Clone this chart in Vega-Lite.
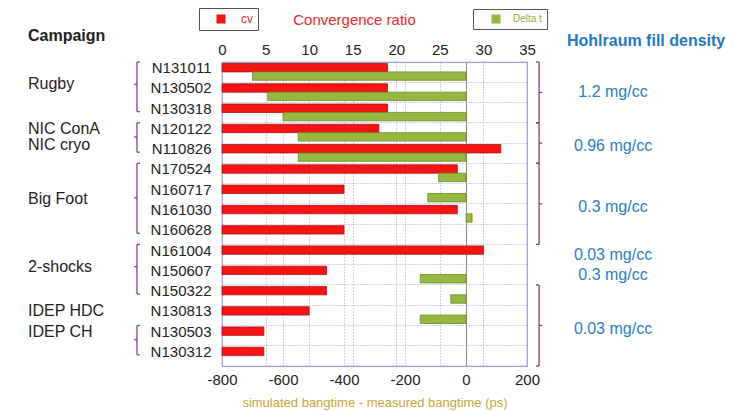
{
  "$schema": "https://vega.github.io/schema/vega-lite/v6.json",
  "autosize": {"type": "pad"},
  "padding": {"left": 28, "top": 6, "right": 0, "bottom": 0},
  "background": "white",
  "config": {
    "font": "Liberation Sans",
    "view": {"stroke": null},
    "title": {"font": "Liberation Sans"},
    "axis": {"labelFont": "Liberation Sans", "titleFont": "Liberation Sans"},
    "legend": {"labelFont": "Liberation Sans"}
  },
  "hconcat": [
    {
      "width": 185,
      "height": 304,
      "title": {"text": "Campaign", "anchor": "start", "frame": "group", "fontSize": 16, "fontWeight": "bold", "color": "#222222", "offset": 17},
      "layer": [
        {
          "data": {"values": [
            {"first": "N131011", "last": "N130318"},
            {"first": "N120122", "last": "N110826"},
            {"first": "N170524", "last": "N160628"},
            {"first": "N161004", "last": "N150322"},
            {"first": "N130503", "last": "N130312"}
          ]},
          "layer": [
            {
              "mark": {"type": "rule", "color": "#8a4585", "strokeWidth": 1.3},
              "encoding": {
                "x": {"datum": 0.589, "type": "quantitative", "scale": {"domain": [0, 1]}, "axis": null},
                "y": {"field": "first", "type": "nominal", "bandPosition": 0, "scale": {"type": "band", "domain": ["N131011","N130502","N130318","N120122","N110826","N170524","N160717","N161030","N160628","N161004","N150607","N150322","N130813","N130503","N130312"], "paddingInner": 0, "paddingOuter": 0}, "axis": null},
                "y2": {"field": "last", "bandPosition": 0.45}
              }
            },
            {
              "mark": {"type": "rule", "color": "#8a4585", "strokeWidth": 1.3},
              "encoding": {
                "x": {"datum": 0.589, "type": "quantitative", "scale": {"domain": [0, 1]}, "axis": null},
                "x2": {"datum": 0.605},
                "y": {"field": "first", "type": "nominal", "bandPosition": 0, "scale": {"type": "band", "domain": ["N131011","N130502","N130318","N120122","N110826","N170524","N160717","N161030","N160628","N161004","N150607","N150322","N130813","N130503","N130312"], "paddingInner": 0, "paddingOuter": 0}, "axis": null}
              }
            },
            {
              "mark": {"type": "rule", "color": "#8a4585", "strokeWidth": 1.3},
              "encoding": {
                "x": {"datum": 0.589, "type": "quantitative", "scale": {"domain": [0, 1]}, "axis": null},
                "x2": {"datum": 0.605},
                "y": {"field": "last", "type": "nominal", "bandPosition": 0.45, "scale": {"type": "band", "domain": ["N131011","N130502","N130318","N120122","N110826","N170524","N160717","N161030","N160628","N161004","N150607","N150322","N130813","N130503","N130312"], "paddingInner": 0, "paddingOuter": 0}, "axis": null}
              }
            }
          ]
        },
        {
          "data": {"values": [{"label": "Rugby", "at": "N130502"}, {"label": "NIC cryo", "at": "N110826"}, {"label": "2-shocks", "at": "N150607"}]},
          "encoding": {
            "y": {"field": "at", "type": "nominal", "bandPosition": 0.1, "scale": {"type": "band", "domain": ["N131011","N130502","N130318","N120122","N110826","N170524","N160717","N161030","N160628","N161004","N150607","N150322","N130813","N130503","N130312"], "paddingInner": 0, "paddingOuter": 0}, "axis": null}
          },
          "layer": [
            {
              "mark": {"type": "text", "align": "left", "baseline": "middle", "fontSize": 16, "color": "#222222"},
              "encoding": {
                "x": {"datum": 0, "type": "quantitative", "scale": {"domain": [0, 1]}, "axis": null},
                "text": {"field": "label"}
              }
            },
            {
              "transform": [{"filter": "datum.label !== 'NIC cryo'"}],
              "mark": {"type": "rule", "color": "#8a4585", "strokeWidth": 1.3},
              "encoding": {
                "x": {"datum": 0.573, "type": "quantitative", "scale": {"domain": [0, 1]}, "axis": null},
                "x2": {"datum": 0.589}
              }
            }
          ]
        },
        {
          "data": {"values": [{"label": "NIC ConA", "at": "N120122"}, {"label": "IDEP HDC", "at": "N130813"}, {"label": "IDEP CH", "at": "N130503"}]},
          "mark": {"type": "text", "align": "left", "baseline": "middle", "fontSize": 16, "color": "#222222"},
          "encoding": {
            "x": {"datum": 0, "type": "quantitative", "scale": {"domain": [0, 1]}, "axis": null},
            "y": {"field": "at", "type": "nominal", "bandPosition": 0.3, "scale": {"type": "band", "domain": ["N131011","N130502","N130318","N120122","N110826","N170524","N160717","N161030","N160628","N161004","N150607","N150322","N130813","N130503","N130312"], "paddingInner": 0, "paddingOuter": 0}, "axis": null},
            "text": {"field": "label"}
          }
        },
        {
          "data": {"values": [{"label": "Big Foot", "at": "N160717"}]},
          "mark": {"type": "text", "align": "left", "baseline": "middle", "fontSize": 16, "color": "#222222"},
          "encoding": {
            "x": {"datum": 0, "type": "quantitative", "scale": {"domain": [0, 1]}, "axis": null},
            "y": {"field": "at", "type": "nominal", "bandPosition": 0.75, "scale": {"type": "band", "domain": ["N131011","N130502","N130318","N120122","N110826","N170524","N160717","N161030","N160628","N161004","N150607","N150322","N130813","N130503","N130312"], "paddingInner": 0, "paddingOuter": 0}, "axis": null},
            "text": {"field": "label"}
          }
        },
        {
          "data": {"values": [{"at": "N120122"}, {"at": "N160717"}, {"at": "N130503"}]},
          "mark": {"type": "rule", "color": "#8a4585", "strokeWidth": 1.3},
          "encoding": {
            "x": {"datum": 0.573, "type": "quantitative", "scale": {"domain": [0, 1]}, "axis": null},
            "x2": {"datum": 0.589},
            "y": {"field": "at", "type": "nominal", "bandPosition": 0.7, "scale": {"type": "band", "domain": ["N131011","N130502","N130318","N120122","N110826","N170524","N160717","N161030","N160628","N161004","N150607","N150322","N130813","N130503","N130312"], "paddingInner": 0, "paddingOuter": 0}, "axis": null}
          }
        }
      ]
    },
    {
      "width": 305,
      "height": 304,
      "view": {"stroke": "#9b9be8", "strokeWidth": 1.2},
      "data": {"values": [
        {"shot": "N131011", "series": "cv", "value": 19},
        {"shot": "N130502", "series": "cv", "value": 19},
        {"shot": "N130318", "series": "cv", "value": 19},
        {"shot": "N120122", "series": "cv", "value": 18},
        {"shot": "N110826", "series": "cv", "value": 32},
        {"shot": "N170524", "series": "cv", "value": 27},
        {"shot": "N160717", "series": "cv", "value": 14},
        {"shot": "N161030", "series": "cv", "value": 27},
        {"shot": "N160628", "series": "cv", "value": 14},
        {"shot": "N161004", "series": "cv", "value": 30},
        {"shot": "N150607", "series": "cv", "value": 12},
        {"shot": "N150322", "series": "cv", "value": 12},
        {"shot": "N130813", "series": "cv", "value": 10},
        {"shot": "N130503", "series": "cv", "value": 4.8},
        {"shot": "N130312", "series": "cv", "value": 4.8},
        {"shot": "N131011", "series": "Delta t", "value": -700},
        {"shot": "N130502", "series": "Delta t", "value": -650},
        {"shot": "N130318", "series": "Delta t", "value": -600},
        {"shot": "N120122", "series": "Delta t", "value": -550},
        {"shot": "N110826", "series": "Delta t", "value": -550},
        {"shot": "N170524", "series": "Delta t", "value": -90},
        {"shot": "N160717", "series": "Delta t", "value": -125},
        {"shot": "N161030", "series": "Delta t", "value": 20},
        {"shot": "N150607", "series": "Delta t", "value": -150},
        {"shot": "N150322", "series": "Delta t", "value": -50},
        {"shot": "N130813", "series": "Delta t", "value": -150}
      ]},
      "encoding": {
        "y": {
          "field": "shot", "type": "nominal",
          "scale": {"type": "band", "domain": ["N131011","N130502","N130318","N120122","N110826","N170524","N160717","N161030","N160628","N161004","N150607","N150322","N130813","N130503","N130312"], "paddingInner": 0, "paddingOuter": 0},
          "axis": {"title": null, "bandPosition": 0, "labelOffset": -4, "ticks": false, "domain": false, "labelPadding": 11, "labelFontSize": 15, "labelColor": "#222222", "grid": true, "gridColor": "#9ba0e6", "gridDash": [1, 2], "labelBaseline": "middle"}
        },
        "yOffset": {"field": "series", "type": "nominal", "scale": {"domain": ["cv", "Delta t"], "paddingInner": 0, "paddingOuter": 0.207, "align": 0.43}}
      },
      "layer": [
        {
          "transform": [{"filter": "datum.series === 'cv'"}],
          "mark": {"type": "bar", "stroke": "#b01212", "strokeWidth": 0.8},
          "encoding": {
            "x": {
              "field": "value", "type": "quantitative",
              "scale": {"domain": [0, 35], "nice": false},
              "axis": {"orient": "top", "values": [0, 5, 10, 15, 20, 25, 30, 35], "title": "Convergence ratio", "titleColor": "#f02828", "titleFontSize": 15, "titleFontWeight": "normal", "titleX": 132, "titleY": -43, "titleBaseline": "middle", "titleAlign": "center", "labelFontSize": 15, "labelColor": "#222222", "labelPadding": 5, "labelFlush": false, "labelOverlap": false, "ticks": false, "domain": false, "grid": true, "gridColor": "#9ba0e6", "gridDash": [1, 2]}
            },
            "color": {
              "field": "series", "type": "nominal",
              "scale": {"domain": ["cv"], "range": ["#f51414"]},
              "legend": {"title": null, "orient": "none", "legendX": -23, "legendY": -54, "symbolType": "square", "symbolSize": 81, "symbolStrokeWidth": 0, "labelColor": "#f02828", "labelFontSize": 12, "padding": 5, "strokeColor": "#555555", "fillColor": "white", "symbolOffset": 11, "labelOffset": 14}
            }
          }
        },
        {
          "transform": [{"filter": "datum.series === 'Delta t'"}],
          "mark": {"type": "bar", "stroke": "#6b8a25", "strokeWidth": 0.8},
          "encoding": {
            "x": {
              "field": "value", "type": "quantitative",
              "scale": {"domain": [-800, 200], "nice": false},
              "axis": {"orient": "bottom", "values": [-800, -600, -400, -200, 0, 200], "labelExpr": "(datum.value < 0 ? '-' : '') + abs(datum.value)", "title": "simulated bangtime - measured bangtime (ps)", "titleColor": "#c4a838", "titleFontSize": 13, "titleFontWeight": "normal", "titleY": 36, "titleBaseline": "middle", "labelFontSize": 15, "labelColor": "#222222", "labelPadding": 6, "labelFlush": false, "labelOverlap": false, "ticks": false, "domain": false, "grid": true,
                "gridColor": {"condition": {"test": "datum.value === 0", "value": "#8a8a8a"}, "value": "#9ba0e6"},
                "gridDash": {"condition": {"test": "datum.value === 0", "value": []}, "value": [1, 2]}}
            },
            "color": {
              "field": "series", "type": "nominal",
              "scale": {"domain": ["Delta t"], "range": ["#95b840"]},
              "legend": {"title": null, "orient": "none", "legendX": 251, "legendY": -53, "symbolType": "square", "symbolSize": 81, "symbolStrokeWidth": 0, "labelColor": "#8db03a", "labelFontSize": 10, "padding": 5, "strokeColor": "#555555", "fillColor": "white", "symbolOffset": 13, "labelOffset": 12}
            }
          }
        }
      ],
      "resolve": {"scale": {"x": "independent", "color": "independent"}, "axis": {"x": "independent"}, "legend": {"color": "independent"}}
    },
    {
      "width": 154,
      "height": 304,
      "title": {"text": "Hohlraum fill density", "anchor": "start", "frame": "group", "dx": 31, "fontSize": 16, "fontWeight": "bold", "color": "#1f78c4", "offset": 12},
      "layer": [
        {
          "data": {"values": [
            {"first": "N131011", "last": "N130318"},
            {"first": "N120122", "last": "N110826"},
            {"first": "N170524", "last": "N160628"},
            {"first": "N150322", "last": "N130312"}
          ]},
          "layer": [
            {
              "mark": {"type": "rule", "color": "#7d3f78", "strokeWidth": 1.3},
              "encoding": {
                "x": {"datum": 0.02, "type": "quantitative", "scale": {"domain": [0, 1]}, "axis": null},
                "y": {"field": "first", "type": "nominal", "bandPosition": 0, "scale": {"type": "band", "domain": ["N131011","N130502","N130318","N120122","N110826","N170524","N160717","N161030","N160628","N161004","N150607","N150322","N130813","N130503","N130312"], "paddingInner": 0, "paddingOuter": 0}, "axis": null},
                "y2": {"field": "last", "bandPosition": 1}
              }
            },
            {
              "mark": {"type": "rule", "color": "#7d3f78", "strokeWidth": 1.3},
              "encoding": {
                "x": {"datum": 0, "type": "quantitative", "scale": {"domain": [0, 1]}, "axis": null},
                "x2": {"datum": 0.02},
                "y": {"field": "first", "type": "nominal", "bandPosition": 0, "scale": {"type": "band", "domain": ["N131011","N130502","N130318","N120122","N110826","N170524","N160717","N161030","N160628","N161004","N150607","N150322","N130813","N130503","N130312"], "paddingInner": 0, "paddingOuter": 0}, "axis": null}
              }
            },
            {
              "mark": {"type": "rule", "color": "#7d3f78", "strokeWidth": 1.3},
              "encoding": {
                "x": {"datum": 0, "type": "quantitative", "scale": {"domain": [0, 1]}, "axis": null},
                "x2": {"datum": 0.02},
                "y": {"field": "last", "type": "nominal", "bandPosition": 1, "scale": {"type": "band", "domain": ["N131011","N130502","N130318","N120122","N110826","N170524","N160717","N161030","N160628","N161004","N150607","N150322","N130813","N130503","N130312"], "paddingInner": 0, "paddingOuter": 0}, "axis": null}
              }
            }
          ]
        },
        {
          "data": {"values": [{"label": "1.2 mg/cc", "at": "N130502", "tip": true}, {"label": "0.03 mg/cc", "at": "N161004", "tip": false}, {"label": "0.3 mg/cc", "at": "N150607", "tip": false}]},
          "encoding": {
            "y": {"field": "at", "type": "nominal", "bandPosition": 0.5, "scale": {"type": "band", "domain": ["N131011","N130502","N130318","N120122","N110826","N170524","N160717","N161030","N160628","N161004","N150607","N150322","N130813","N130503","N130312"], "paddingInner": 0, "paddingOuter": 0}, "axis": null}
          },
          "layer": [
            {
              "mark": {"type": "text", "align": "center", "baseline": "middle", "fontSize": 16, "color": "#2b7dc4"},
              "encoding": {
                "x": {"datum": 0.5, "type": "quantitative", "scale": {"domain": [0, 1]}, "axis": null},
                "text": {"field": "label"}
              }
            },
            {
              "transform": [{"filter": "datum.tip"}],
              "mark": {"type": "rule", "color": "#7d3f78", "strokeWidth": 1.3},
              "encoding": {
                "x": {"datum": 0.02, "type": "quantitative", "scale": {"domain": [0, 1]}, "axis": null},
                "x2": {"datum": 0.04}
              }
            }
          ]
        },
        {
          "data": {"values": [{"label": "0.96 mg/cc", "at": "N110826"}, {"label": "0.3 mg/cc", "at": "N161030"}, {"label": "0.03 mg/cc", "at": "N130503"}]},
          "layer": [
            {
              "mark": {"type": "text", "align": "center", "baseline": "middle", "fontSize": 16, "color": "#2b7dc4"},
              "encoding": {
                "x": {"datum": 0.5, "type": "quantitative", "scale": {"domain": [0, 1]}, "axis": null},
                "y": {"field": "at", "type": "nominal", "bandPosition": 0.15, "scale": {"type": "band", "domain": ["N131011","N130502","N130318","N120122","N110826","N170524","N160717","N161030","N160628","N161004","N150607","N150322","N130813","N130503","N130312"], "paddingInner": 0, "paddingOuter": 0}, "axis": null},
                "text": {"field": "label"}
              }
            },
            {
              "mark": {"type": "rule", "color": "#7d3f78", "strokeWidth": 1.3},
              "encoding": {
                "x": {"datum": 0.02, "type": "quantitative", "scale": {"domain": [0, 1]}, "axis": null},
                "x2": {"datum": 0.04},
                "y": {"field": "at", "type": "nominal", "bandPosition": 0, "scale": {"type": "band", "domain": ["N131011","N130502","N130318","N120122","N110826","N170524","N160717","N161030","N160628","N161004","N150607","N150322","N130813","N130503","N130312"], "paddingInner": 0, "paddingOuter": 0}, "axis": null}
              }
            }
          ]
        }
      ]
    }
  ],
  "spacing": 9,
  "bounds": "flush"
}
